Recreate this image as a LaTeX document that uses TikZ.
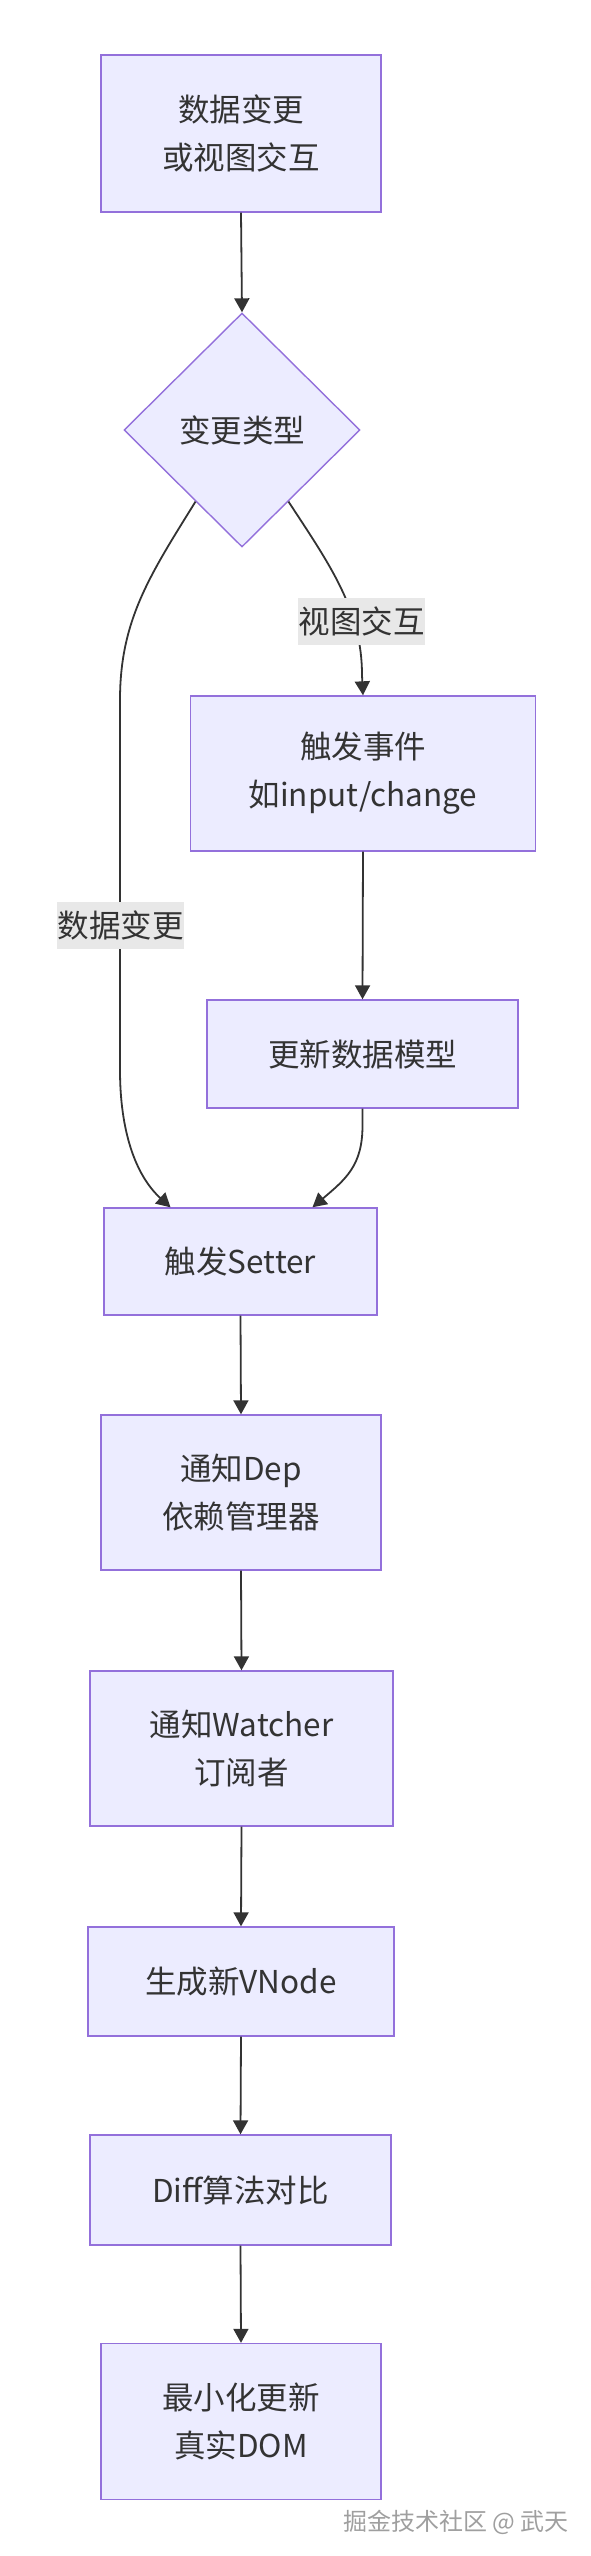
\documentclass[tikz,border=0pt]{standalone}
\usepackage{fontspec}
\setmainfont{Noto Sans CJK SC}
\usetikzlibrary{shapes.geometric,arrows.meta}
\definecolor{boxfill}{HTML}{ECECFF}
\definecolor{boxline}{HTML}{9370DB}
\definecolor{edgeline}{HTML}{333333}
\definecolor{labelfill}{HTML}{E8E8E8}
\begin{document}
\begin{tikzpicture}[x=0.5pt, y=-0.5pt,
        every node/.style={font=\fontsize{15.75pt}{24pt}\selectfont, text=edgeline},
        flowbox/.style={draw=boxline, fill=boxfill, line width=0.7pt, align=center, inner sep=0pt},
        choice/.style={diamond, draw=boxline, fill=boxfill, line width=0.7pt, inner sep=0pt, minimum width=118pt, minimum height=117pt},
        edgelabel/.style={fill=labelfill, inner sep=0pt, minimum height=23.5pt, text width=63.5pt, align=center},
        flow/.style={draw=edgeline, line width=0.9pt, -{Triangle[length=7pt, width=7.5pt]}}]
        \useasboundingbox (0,0) rectangle (590,2556);
        \node[flowbox, minimum width=140pt, minimum height=78.5pt] (start) at (241,133.5) {数据变更\\或视图交互};
        \node[choice] (kind) at (242,430) {变更类型};
        \node[flowbox, minimum width=172.5pt, minimum height=77.5pt] (event) at (363,773.5) {触发事件\\如input/change};
        \node[flowbox, minimum width=155.5pt, minimum height=54pt] (model) at (362.5,1054) {更新数据模型};
        \node[flowbox, minimum width=136.5pt, minimum height=53.5pt] (setter) at (240.5,1261.5) {触发Setter};
        \node[flowbox, minimum width=140pt, minimum height=77.5pt] (dep) at (241,1492.5) {通知Dep\\依赖管理器};
        \node[flowbox, minimum width=151.5pt, minimum height=77.5pt] (watcher) at (241.5,1748.5) {通知Watcher\\订阅者};
        \node[flowbox, minimum width=153pt, minimum height=54.5pt] (vnode) at (241,1981.5) {生成新VNode};
        \node[flowbox, minimum width=150.5pt, minimum height=55pt] (diff) at (240.5,2190) {Diff算法对比};
        \node[flowbox, minimum width=140pt, minimum height=78pt] (dom) at (241,2421.5) {最小化更新\\真实DOM};
        \draw[flow] (start.south) -- (kind.north);
        \draw[flow] (kind.-57) .. controls (330,565) and (362,610) .. (362,675) -- (event.north);
        \draw[flow] (kind.-123) .. controls (150,575) and (120,620) .. (120,700) -- (120,1070)
                .. controls (120,1130) and (135,1175) .. ([xshift=-35pt]setter.north);
        \draw[flow] (event.south) -- (model.north);
        \draw[flow] (model.south) -- ++(0,17) .. controls +(0,40) and +(33,-28) .. ([xshift=36pt]setter.north);
        \foreach \a/\b in {setter/dep, dep/watcher, watcher/vnode, vnode/diff, diff/dom}
                \draw[flow] (\a.south) -- (\b.north);
        \node[edgelabel] (lview) at (361.5,621.5) {视图交互};
        \node[edgelabel] (ldata) at (120.5,925.5) {数据变更};
        \node[text=gray!75, font=\fontsize{12pt}{14pt}\selectfont] (mark) at (456,2522) {掘金技术社区 @ 武天};
\end{tikzpicture}
\end{document}
